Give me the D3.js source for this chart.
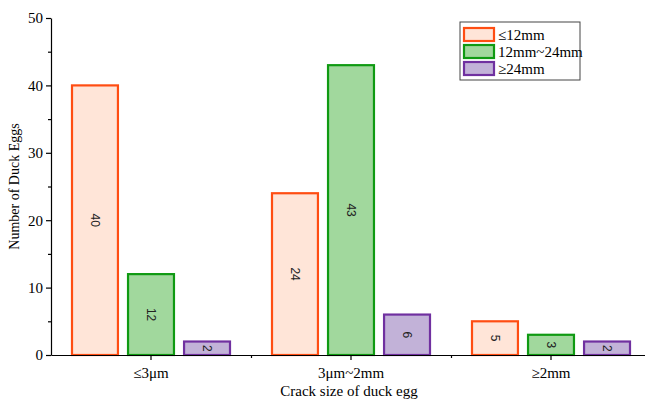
<!DOCTYPE html>
<html>
<head>
<meta charset="utf-8">
<script src="https://cdn.jsdelivr.net/npm/d3@7"></script>
<style>
  html, body { margin: 0; padding: 0; background: #fff; }
  svg { display: block; }
  text { font-family: "Liberation Serif", "Times New Roman", serif; }
</style>
</head>
<body>
<svg id="chart" width="645" height="399"></svg>
<script>
// Crack size groups and egg counts per egg-size series
const categories = ["≤3μm", "3μm~2mm", "≥2mm"];
const seriesNames = ["≤12mm", "12mm~24mm", "≥24mm"];
const small = [40, 24, 5];
const medium = [12, 43, 3];
const large = [2, 6, 2];
const yTicks = [0, 10, 20, 30, 40, 50];
const yMinorTicks = [5, 15, 25, 35, 45];

const seriesValues = [small, medium, large];
const strokes = ["#FF4D12", "#0F9A12", "#7030A0"];
const fills = ["#FFE5D8", "#A1D89D", "#C2B2D8"];

const svg = d3.select("#chart");
const plotLeft = 51, plotRight = 651, plotTop = 18, plotBottom = 355;

const x = d3.scaleBand().domain(categories).range([plotLeft, plotRight]).padding(0);
const xSub = d3.scaleBand().domain(seriesNames).range([21, 179]).paddingInner(0.18);
const y = d3.scaleLinear().domain([0, 50]).range([plotBottom, plotTop]);

// bars
categories.forEach((cat, ci) => {
  seriesNames.forEach((s, si) => {
    const v = seriesValues[si][ci];
    const bx = x(cat) + xSub(s);
    svg.append("rect")
      .attr("x", bx)
      .attr("y", y(v))
      .attr("width", xSub.bandwidth())
      .attr("height", y(0) - y(v))
      .attr("fill", fills[si])
      .attr("stroke", strokes[si])
      .attr("stroke-width", 2.2);
    const cx = bx + xSub.bandwidth() / 2;
    const cy = (y(v) + y(0)) / 2;
    svg.append("text")
      .attr("transform", `translate(${cx},${cy}) rotate(90)`)
      .attr("text-anchor", "middle")
      .attr("dy", "0.35em")
      .style("font-family", "'Liberation Sans', Arial, sans-serif")
      .style("font-size", "12px")
      .attr("fill", "#222")
      .text(v);
  });
});

// y axis
const yAxis = svg.append("g").attr("transform", `translate(${plotLeft},0)`)
  .call(d3.axisLeft(y).tickValues(yTicks).tickSize(5).tickSizeOuter(0).tickPadding(3));
yAxis.selectAll("text").style("font-size", "15px").attr("fill", "#000");
yAxis.select(".domain").attr("stroke-width", 1.2);
yAxis.selectAll(".tick line").attr("stroke-width", 1.2);
svg.append("g").attr("transform", `translate(${plotLeft},0)`)
  .call(d3.axisLeft(y).tickValues(yMinorTicks).tickSize(3).tickFormat(""))
  .call(g => g.select(".domain").remove())
  .selectAll(".tick line").attr("stroke-width", 1.2);

// x axis
const xAxis = svg.append("g").attr("transform", `translate(0,${plotBottom})`)
  .call(d3.axisBottom(x).tickSize(5).tickSizeOuter(0).tickPadding(7));
xAxis.selectAll("text").style("font-size", "15px").attr("fill", "#000");
xAxis.select(".domain").attr("stroke-width", 1.2);
xAxis.selectAll(".tick line").attr("stroke-width", 1.2);
// minor ticks at group boundaries
svg.append("g").attr("transform", `translate(0,${plotBottom})`)
  .call(d3.axisBottom(d3.scaleLinear().domain([0, 3]).range([plotLeft, plotRight]))
    .tickValues([1, 2]).tickSize(3).tickFormat(""))
  .call(g => g.select(".domain").remove())
  .selectAll(".tick line").attr("stroke-width", 1.2);

// axis titles
svg.append("text")
  .attr("transform", `translate(19,${(plotTop + plotBottom) / 2}) rotate(-90)`)
  .attr("text-anchor", "middle")
  .style("font-size", "14px")
  .text("Number of Duck Eggs");
svg.append("text")
  .attr("x", 349).attr("y", 396)
  .attr("text-anchor", "middle")
  .style("font-size", "15px")
  .text("Crack size of duck egg");

// legend
const lg = svg.append("g").attr("transform", "translate(460,22)");
lg.append("rect").attr("width", 120).attr("height", 58)
  .attr("fill", "#fff").attr("stroke", "#444").attr("stroke-width", 1);
seriesNames.forEach((s, i) => {
  lg.append("rect")
    .attr("x", 4).attr("y", 6 + i * 17)
    .attr("width", 30).attr("height", 13)
    .attr("fill", fills[i]).attr("stroke", strokes[i]).attr("stroke-width", 2.2);
  lg.append("text")
    .attr("x", 38).attr("y", 12.5 + i * 17)
    .attr("dy", "0.35em")
    .style("font-size", "15px")
    .text(s);
});
</script>
</body>
</html>
